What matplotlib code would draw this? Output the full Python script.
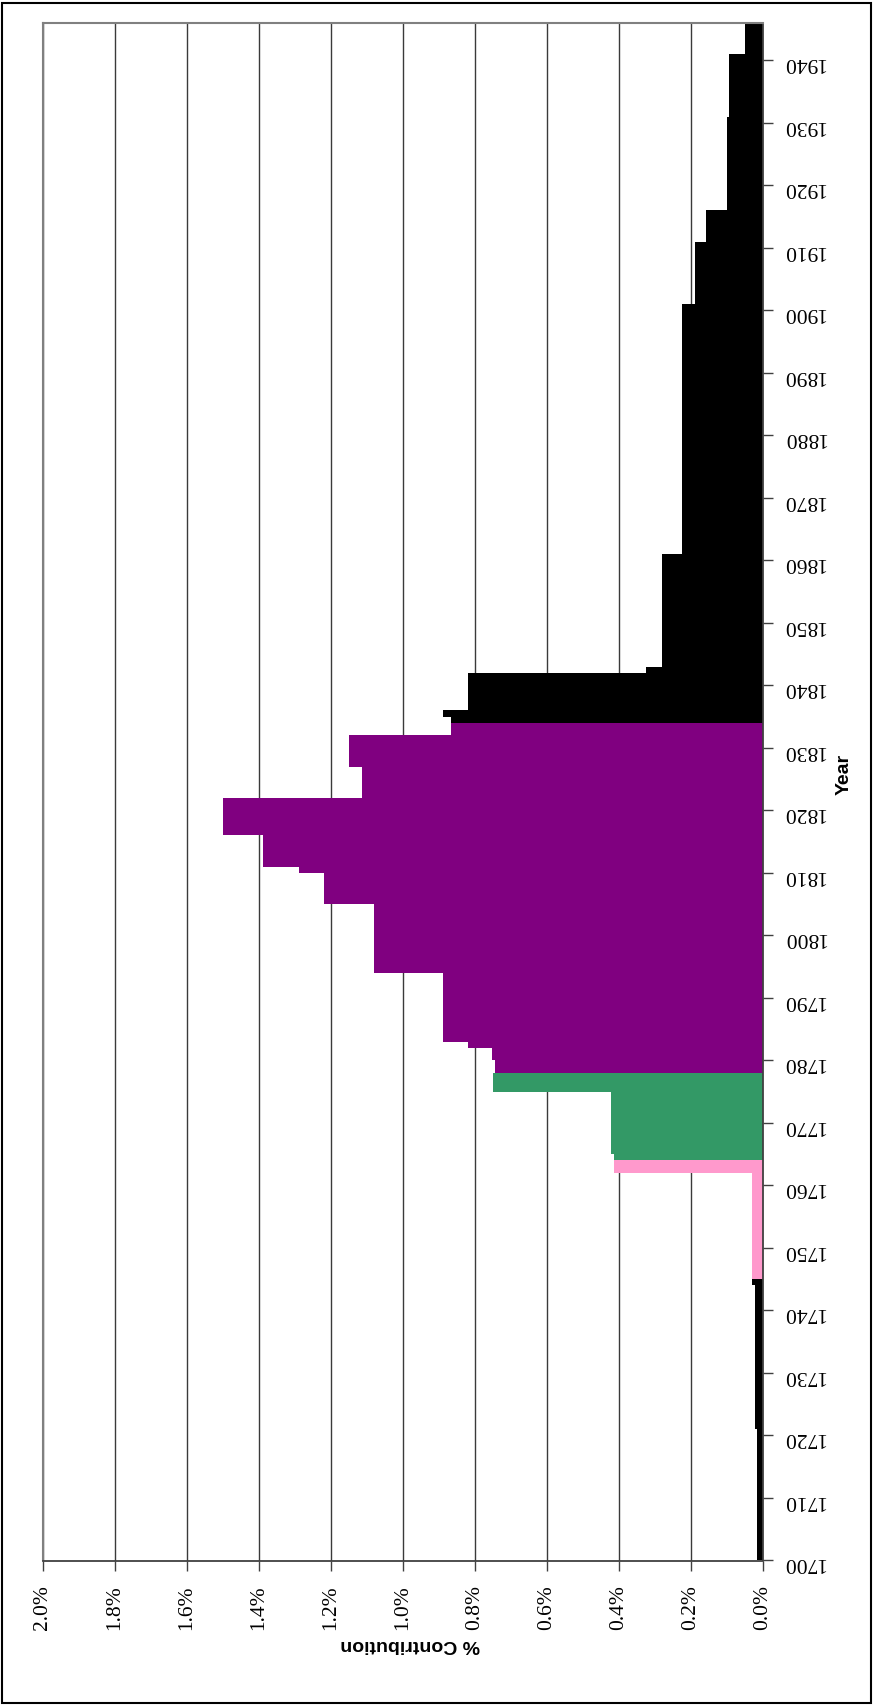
import numpy as np
import matplotlib.pyplot as plt
from matplotlib.patches import Rectangle

# yearly contribution, stored as steps: each value holds from its start year
# until the next start year (last step runs through 1945)
step_start = [1700, 1721, 1744, 1745, 1762, 1764, 1765, 1775, 1778, 1780,
              1782, 1783, 1794, 1805, 1810, 1811, 1816, 1822, 1827, 1832,
              1834, 1835, 1836, 1842, 1843, 1861, 1901, 1911, 1916, 1931,
              1941]
step_value = [0.018, 0.022, 0.030, 0.031, 0.414, 0.415, 0.423, 0.750, 0.744, 0.752,
              0.820, 0.890, 1.080, 1.220, 1.290, 1.390, 1.500, 1.115, 1.150, 0.868,
              0.868, 0.888, 0.820, 0.325, 0.281, 0.224, 0.190, 0.158, 0.100, 0.094,
              0.050]
last_year = 1945

# periods shown in different colours
period_start = [1700, 1745, 1764, 1778, 1834]
period_colour = ['#000000', '#FF99CC', '#339966', '#800080', '#000000']

year_ticks = list(range(1700, 1941, 10))
value_ticks = [0.0, 0.2, 0.4, 0.6, 0.8, 1.0, 1.2, 1.4, 1.6, 1.8, 2.0]

years = np.arange(step_start[0], last_year + 1)
counts = np.diff(step_start + [last_year + 1])
values = np.repeat(step_value, counts)
idx = np.searchsorted(period_start, years, side='right') - 1
colours = [period_colour[i] for i in idx]

W, H = 874, 1705
fig = plt.figure(figsize=(W / 100, H / 100), dpi=100)
ax = fig.add_axes([43 / W, 1 - 1560.5 / H, 720 / W, 1537.5 / H])

ax.barh(years, values, height=1.0, align='edge', color=colours, linewidth=0)

ax.set_xlim(2.0, 0.0)
ax.set_ylim(1700, 1946)

ax.set_xticks(value_ticks)
ax.set_xticklabels([f'{v:.1f}%' for v in value_ticks], rotation=90,
                   family='Liberation Serif', fontsize=15.5)
ax.xaxis.grid(True, color='#3a3a3a', linewidth=1.0)
ax.set_axisbelow(True)

ax.yaxis.tick_right()
ax.set_yticks(year_ticks)
ax.set_yticklabels([str(y) for y in year_ticks], rotation=180,
                   family='Liberation Serif', fontsize=15.5)

ax.tick_params(axis='x', direction='out', length=7, width=1, pad=11, color='#404040')
ax.tick_params(axis='y', direction='out', length=7, width=1, pad=7, color='#404040')

for side in ('top', 'left'):
    ax.spines[side].set_color('#808080')
    ax.spines[side].set_linewidth(1.5)
for side in ('right', 'bottom'):
    ax.spines[side].set_color('#404040')
    ax.spines[side].set_linewidth(1.3)

fig.text(410 / W, 1 - 1644 / H, '% Contribution', rotation=180, ha='center', va='center',
         family='Liberation Sans', fontweight='bold', fontsize=14)
fig.text(844 / W, 1 - 774 / H, 'Year', rotation=90, ha='center', va='center',
         family='Liberation Sans', fontweight='bold', fontsize=14)

# chart frame
fig.add_artist(Rectangle((2 / W, 2 / H), 869 / W, 1700 / H, transform=fig.transFigure,
                         fill=False, edgecolor='black', linewidth=1.5))

fig.savefig('out.png', dpi=100)
